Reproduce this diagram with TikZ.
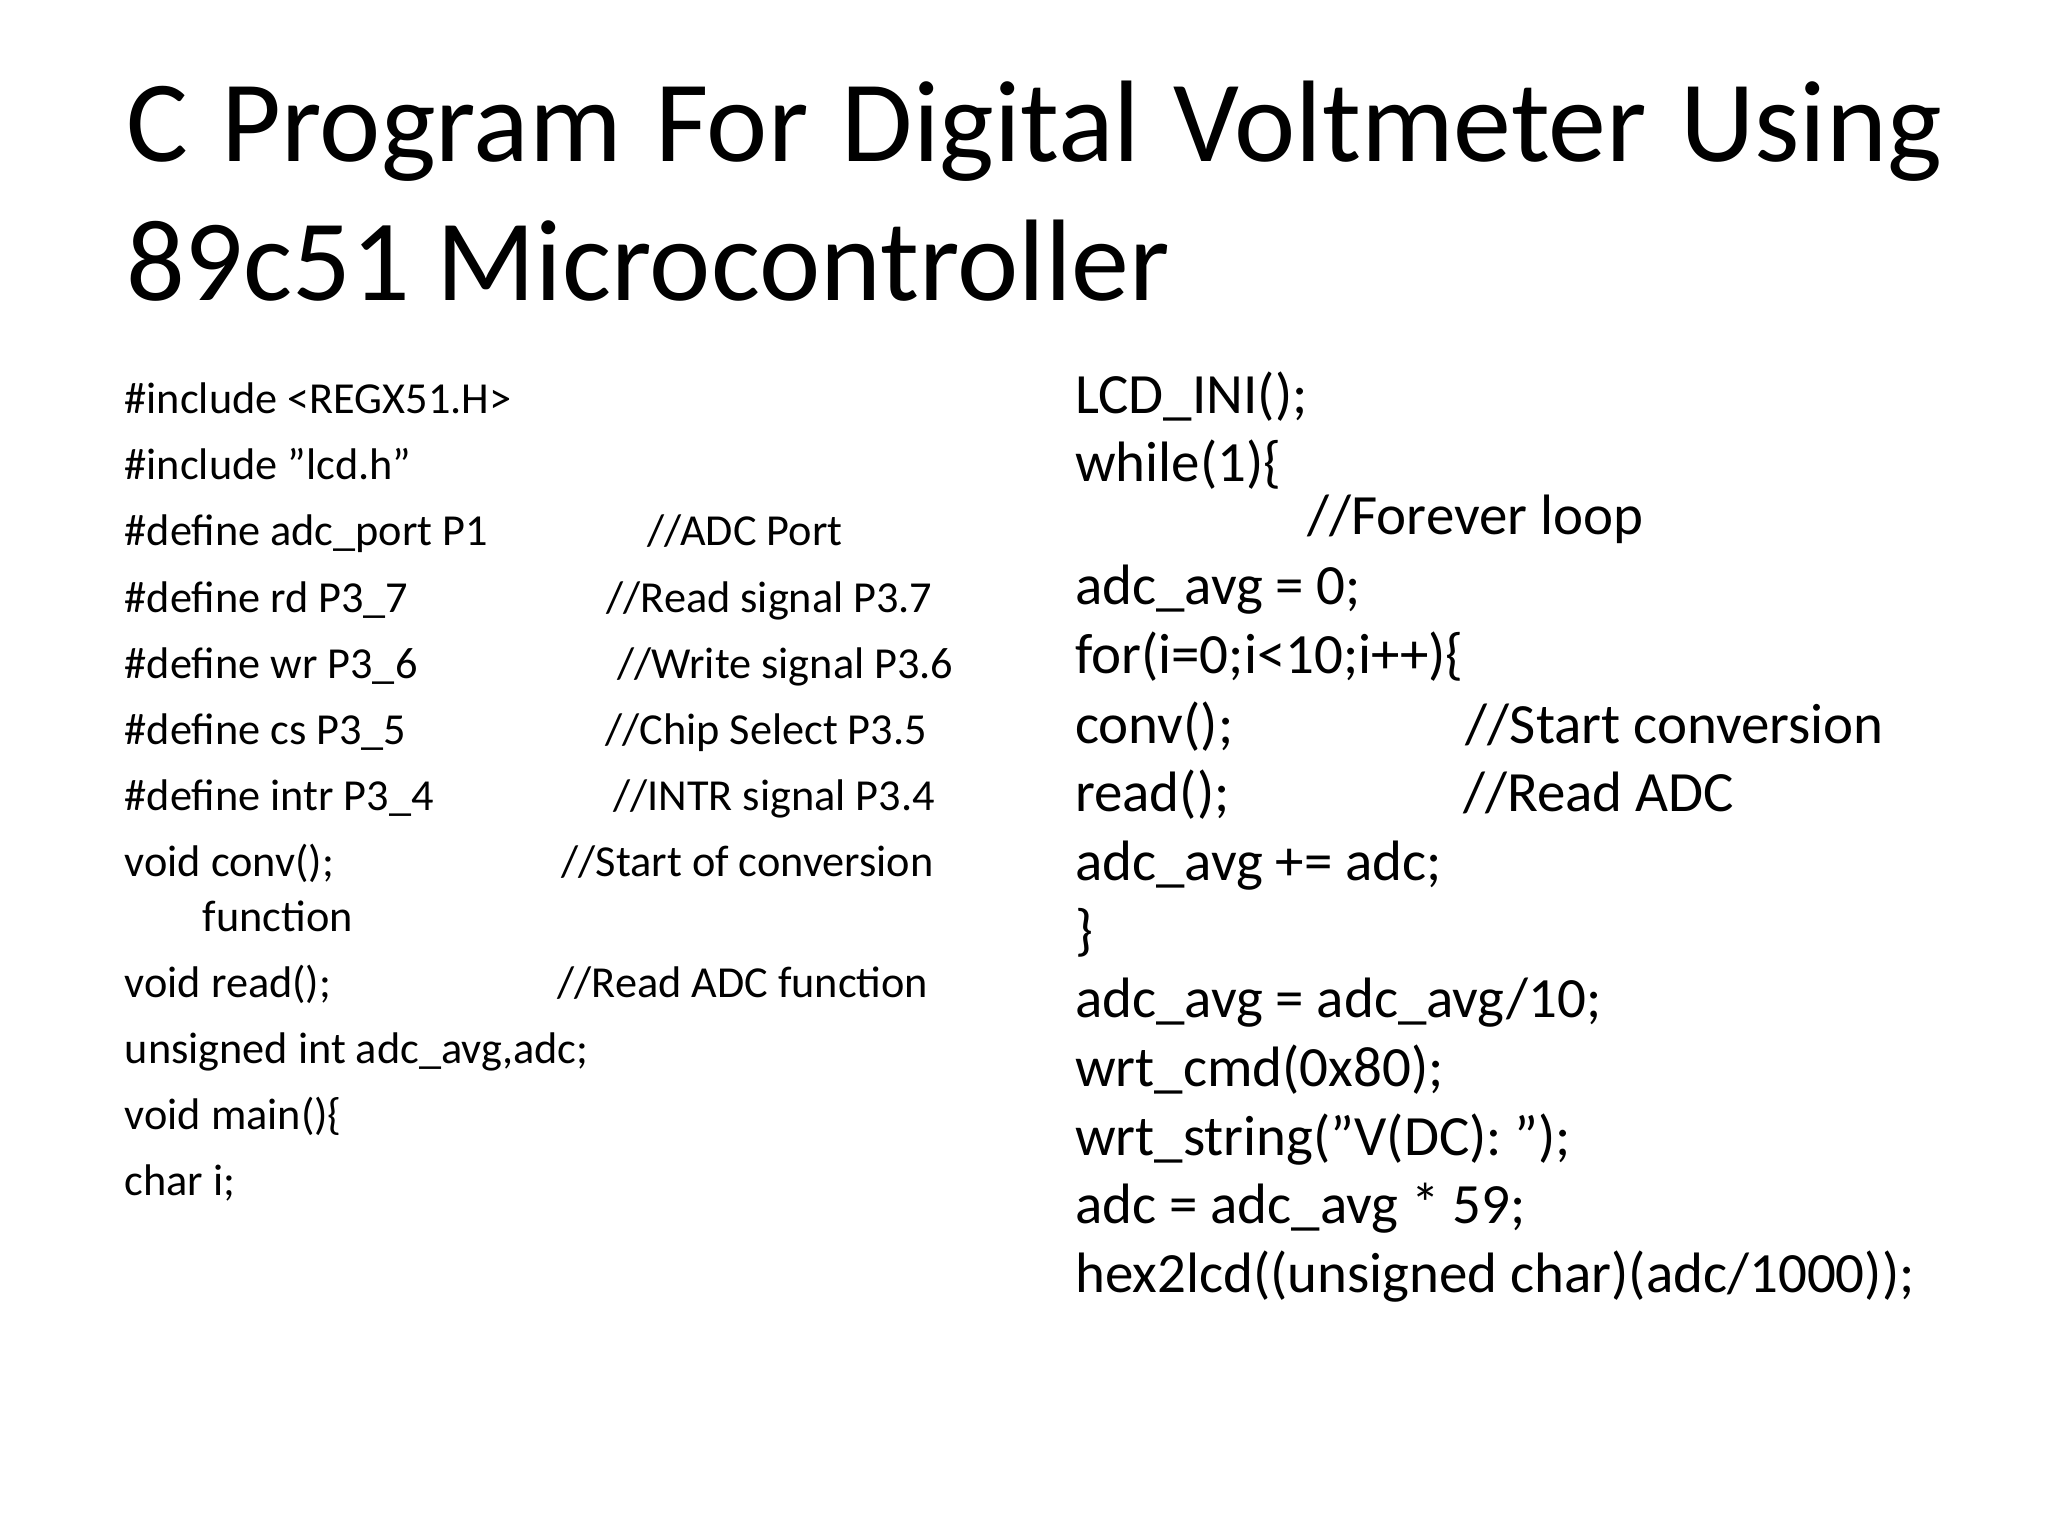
\documentclass[tikz,border=0pt]{standalone}
\usepackage{fontspec}
\setmainfont{Carlito}
\begin{document}
\begin{tikzpicture}[x=0.1320cm,y=-0.1320cm,
  tt/.style={anchor=base west,inner sep=0pt,font=\fontsize{33}{36}\selectfont},
  lc/.style={anchor=base west,inner sep=0pt,font=\fontsize{12.6}{14}\selectfont},
  rc/.style={anchor=base west,inner sep=0pt,font=\fontsize{16.2}{19}\selectfont}]
\useasboundingbox (0,0) rectangle (155.15,116.36);
\node[tt] (t1) at (9.5,12.2) {\makebox[18.16cm][s]{C Program For Digital Voltmeter Using}};
\node[tt] (t2) at (9.5,22.8) {89c51 Microcontroller};
% left
\node[lc] (l1) at (9.4,31.3) {\#include <REGX51.H>};
\node[lc] (l2) at (9.4,36.3) {\#include \char34 lcd.h\char34};
\node[lc] (l3) at (9.4,41.3) {\#define adc\_port P1};
\node[lc] (c3) at (49.0,41.3) {//ADC Port};
\node[lc] (l4) at (9.4,46.4) {\#define rd P3\_7};
\node[lc] (c4) at (45.9,46.4) {//Read signal P3.7};
\node[lc] (l5) at (9.4,51.4) {\#define wr P3\_6};
\node[lc] (c5) at (46.7,51.4) {//Write signal P3.6};
\node[lc] (l6) at (9.4,56.4) {\#define cs P3\_5};
\node[lc] (c6) at (45.8,56.4) {//Chip Select P3.5};
\node[lc] (l7) at (9.4,61.4) {\#define intr P3\_4};
\node[lc] (c7) at (46.4,61.4) {//INTR signal P3.4};
\node[lc] (l8) at (9.4,66.4) {void conv();};
\node[lc] (c8) at (42.5,66.4) {//Start of conversion};
\node[lc] (l8b) at (15.3,70.6) {function};
\node[lc] (l9) at (9.4,75.6) {void read();};
\node[lc] (c9) at (42.2,75.6) {//Read ADC function};
\node[lc] (l10) at (9.4,80.6) {unsigned int adc\_avg,adc;};
\node[lc] (l11) at (9.4,85.6) {void main()\{};
\node[lc] (l12) at (9.4,90.6) {char i;};
% right
\node[rc] (r1) at (81.4,31.3) {LCD\_INI();};
\node[rc] (r2) at (81.4,36.5) {while(1)\{};
\node[rc] (r3) at (99.0,40.5) {//Forever loop};
\node[rc] (r4) at (81.4,45.8) {adc\_avg = 0;};
\node[rc] (r5) at (81.4,51.0) {for(i=0;i<10;i++)\{};
\node[rc] (r6) at (81.4,56.3) {conv();};
\node[rc] (d6) at (111.0,56.3) {//Start conversion};
\node[rc] (r7) at (81.4,61.5) {read();};
\node[rc] (d7) at (110.8,61.5) {//Read ADC};
\node[rc] (r8) at (81.4,66.7) {adc\_avg += adc;};
\node[rc] (r9) at (81.4,71.9) {\}};
\node[rc] (r10) at (81.4,77.1) {adc\_avg = adc\_avg/10;};
\node[rc] (r11) at (81.4,82.3) {wrt\_cmd(0x80);};
\node[rc] (r12) at (81.4,87.5) {wrt\_string(\char34 V(DC): \char34);};
\node[rc] (r13) at (81.4,92.7) {adc = adc\_avg * 59;};
\node[rc] (r14) at (81.4,97.9) {hex2lcd((unsigned char)(adc/1000));};
\end{tikzpicture}
\end{document}
